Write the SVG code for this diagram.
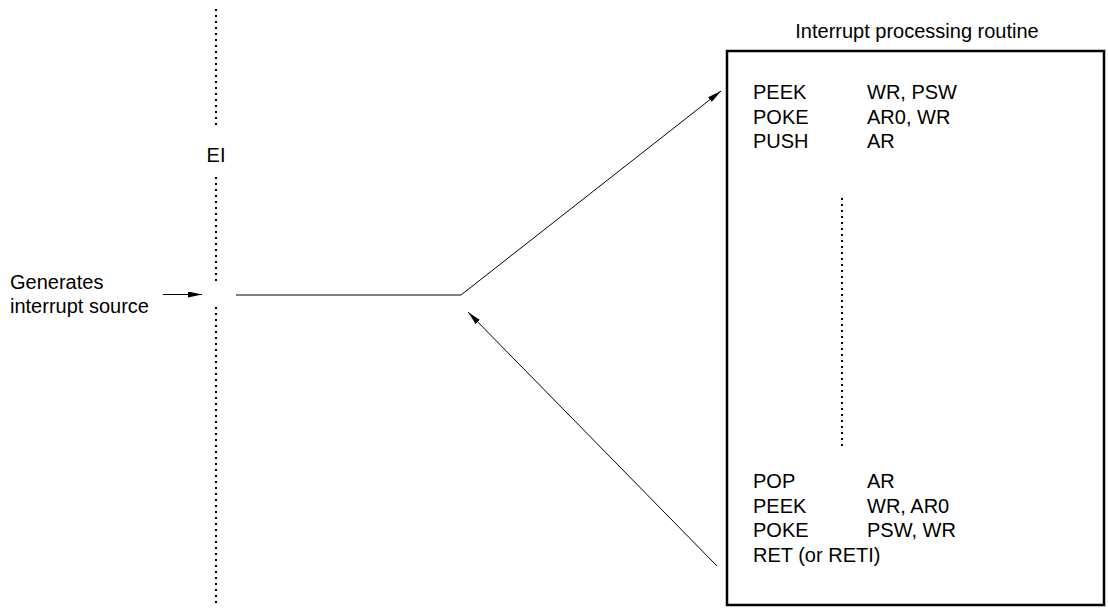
<svg xmlns="http://www.w3.org/2000/svg" width="1108" height="609" viewBox="0 0 1108 609">
<style>
text{font-family:"Liberation Sans",Arial,sans-serif;font-size:20px;fill:#000}
.dot{stroke:#000;stroke-width:2;stroke-dasharray:2 4;fill:none}
.ln{stroke:#000;stroke-width:1;fill:none}
</style>
<defs>
<marker id="ah" markerWidth="14" markerHeight="6" refX="14" refY="3" orient="auto" markerUnits="userSpaceOnUse">
<path d="M0,0 L14,3 L0,6 Z" fill="#000"/>
</marker>
</defs>
<rect width="1108" height="609" fill="#fff"/>
<g id="timeline">
<line class="dot" x1="216" y1="9" x2="216" y2="125"/>
<line class="dot" x1="216" y1="177" x2="216" y2="284"/>
<line class="dot" x1="216" y1="307" x2="216" y2="606"/>
<text x="216" y="162" text-anchor="middle">EI</text>
</g>
<g id="source">
<text x="10" y="289">Generates</text>
<text x="10" y="313">interrupt source</text>
</g>
<g id="routine">
<text x="917" y="38" text-anchor="middle">Interrupt processing routine</text>
<rect x="727" y="51" width="377" height="554" fill="none" stroke="#000" stroke-width="2.5"/>
<text x="753" y="99">PEEK</text><text x="867" y="99">WR, PSW</text>
<text x="753" y="123.5">POKE</text><text x="867" y="123.5">AR0, WR</text>
<text x="753" y="148">PUSH</text><text x="867" y="148">AR</text>
<line class="dot" x1="842" y1="198" x2="842" y2="449"/>
<text x="753" y="488">POP</text><text x="867" y="488">AR</text>
<text x="753" y="512.5">PEEK</text><text x="867" y="512.5">WR, AR0</text>
<text x="753" y="537">POKE</text><text x="867" y="537">PSW, WR</text>
<text x="753" y="561.5">RET (or RETI)</text>
</g>
<g id="connectors">
<line class="ln" x1="163" y1="294.5" x2="202" y2="294.5" marker-end="url(#ah)"/>
<polyline class="ln" points="236,295 461,295 721,91" marker-end="url(#ah)"/>
<line class="ln" x1="717" y1="566" x2="468" y2="312" marker-end="url(#ah)"/>
</g>
</svg>
